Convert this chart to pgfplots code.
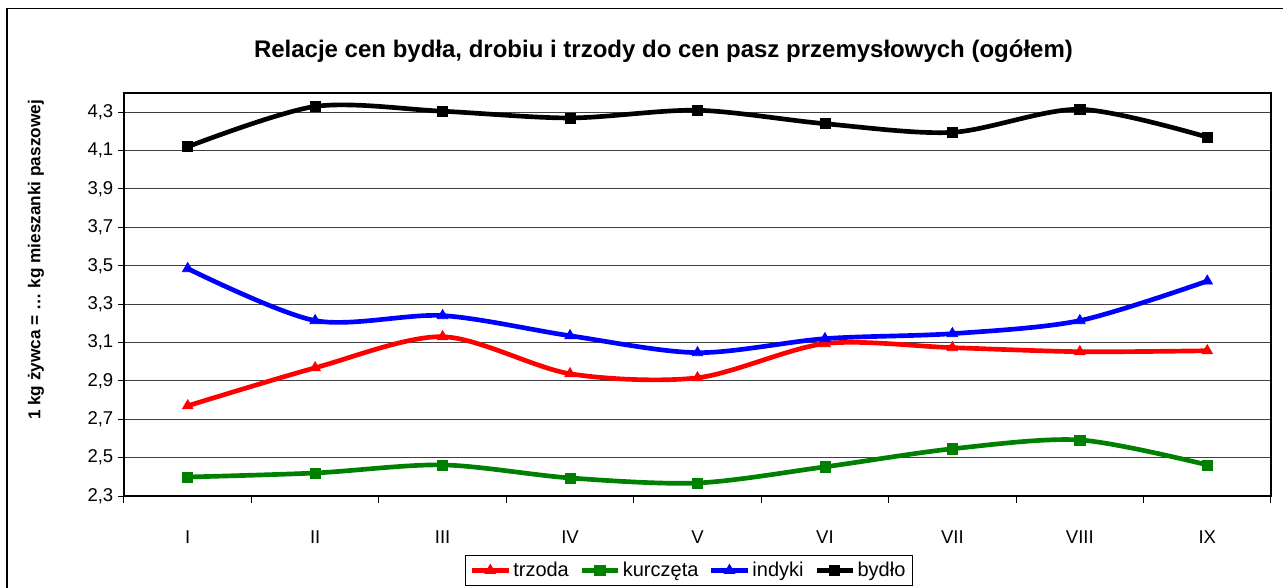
\documentclass[border=0pt]{standalone}
\usepackage{fontspec}
\setmainfont{Liberation Sans}
\usepackage{pgfplots}
\pgfplotsset{compat=1.18}
\definecolor{cgreen}{RGB}{0,128,0}
\begin{document}
\begin{tikzpicture}
\useasboundingbox (0,0) rectangle (962.25pt,-440.25pt);
\draw[line width=1.2pt] (5.25pt,-480pt) -- (5.25pt,-6.4pt) -- (1000pt,-6.4pt);
\node[anchor=base, font=\fontsize{18}{21}\selectfont\bfseries] at (497.6pt,-42.75pt)
  {Relacje cen bydła, drobiu i trzody do cen pasz przemysłowych (ogółem)};
\node[rotate=90, anchor=center, font=\fontsize{12.9}{15}\selectfont\bfseries] at (27pt,-195pt)
  {1 kg żywca = … kg mieszanki paszowej};
\begin{axis}[
  at={(93pt,-372pt)}, anchor=south west,
  scale only axis, width=860.25pt, height=302.25pt,
  xmin=-0.5, xmax=8.5, ymin=2.3, ymax=4.4,
  xtick={0,1,2,3,4,5,6,7,8},
  xticklabels={I,II,III,IV,V,VI,VII,VIII,IX},
  major x tick style={draw=none},
  minor xtick={-0.5,0.5,1.5,2.5,3.5,4.5,5.5,6.5,7.5,8.5},
  ytick={2.3,2.5,2.7,2.9,3.1,3.3,3.5,3.7,3.9,4.1,4.3},
  tick pos=left, tick align=outside,
  major tick length=4.5pt, minor tick length=5.25pt,
  tick style={black, line width=0.75pt},
  ymajorgrids, grid style={black!75, line width=0.75pt},
  axis line style={black, line width=1pt},
  ticklabel style={font=\fontsize{13.9}{16}\selectfont},
  xticklabel style={anchor=base, yshift=-30.75pt},
  yticklabel style={/pgf/number format/.cd, use comma, fixed, fixed zerofill, precision=1, assume math mode=true},
  legend style={at={(0.4926,-0.1464)}, anchor=north, legend columns=-1, draw=black, line width=0.75pt,
    font=\fontsize{15}{18}\selectfont, inner sep=3pt,
    /tikz/every even column/.append style={column sep=6pt}},
  legend cell align=left,
  legend image code/.code={\draw[mark repeat=2,mark phase=2,#1] plot coordinates {(0pt,0pt) (13.5pt,0pt) (27pt,0pt)};},
  every axis plot/.append style={line width=3.5pt, smooth, mark options={solid, line width=0.5pt}},
]
\addplot[red, mark=triangle*, mark size=4.6pt] coordinates {
(0,2.77) (1,2.968) (2,3.13) (3,2.937) (4,2.916) (5,3.094) (6,3.073) (7,3.052) (8,3.057)};
\addlegendentry{trzoda}
\addplot[cgreen, mark=square*, mark size=3.8pt] coordinates {
(0,2.399) (1,2.42) (2,2.462) (3,2.394) (4,2.368) (5,2.452) (6,2.546) (7,2.592) (8,2.462)};
\addlegendentry{kurczęta}
\addplot[blue, mark=triangle*, mark size=4.6pt] coordinates {
(0,3.485) (1,3.214) (2,3.24) (3,3.135) (4,3.047) (5,3.12) (6,3.146) (7,3.214) (8,3.42)};
\addlegendentry{indyki}
\addplot[black, mark=square*, mark size=3.8pt] coordinates {
(0,4.12) (1,4.33) (2,4.305) (3,4.27) (4,4.31) (5,4.24) (6,4.195) (7,4.315) (8,4.17)};
\addlegendentry{bydło}
\end{axis}
\end{tikzpicture}
\end{document}
